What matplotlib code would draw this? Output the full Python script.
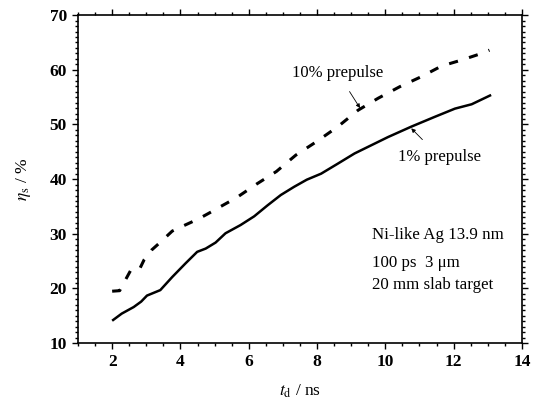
import matplotlib
matplotlib.use("Agg")
import matplotlib.pyplot as plt
from matplotlib.ticker import MultipleLocator

plt.rcParams["font.family"] = "Liberation Serif"
plt.rcParams["mathtext.fontset"] = "stix"

# 1% prepulse (solid)
t_1 = [2.0, 2.28, 2.63, 2.85, 3.02, 3.41, 3.76, 4.15, 4.49, 4.74, 5.03, 5.32,
       5.76, 6.16, 6.55, 6.94, 7.33, 7.7, 8.12, 8.6, 9.1, 10.08, 10.76, 11.45,
       12.04, 12.53, 13.1]
eta_1 = [14.1, 15.4, 16.6, 17.6, 18.7, 19.7, 22.1, 24.6, 26.7, 27.3, 28.4, 30.1,
         31.6, 33.2, 35.2, 37.1, 38.6, 39.9, 41.0, 42.8, 44.7, 47.7, 49.6, 51.4,
         52.9, 53.7, 55.4]

# 10% prepulse (dashed)
t_10 = [2.0, 2.22, 2.41, 2.55, 2.8, 2.94, 3.15, 3.4, 3.76, 4.03, 4.31, 4.58,
        4.9, 5.18, 5.64, 6.23, 6.81, 7.38, 7.97, 8.61, 9.2, 9.79, 10.42, 11.04,
        11.65, 12.24, 12.82, 13.05]
eta_10 = [19.5, 19.6, 21.8, 23.4, 23.5, 25.3, 27.0, 28.4, 30.5, 31.3, 32.1, 32.9,
          34.0, 35.0, 36.6, 39.1, 41.4, 44.4, 46.8, 49.6, 52.6, 54.8, 56.9, 58.7,
          60.7, 61.8, 63.0, 63.6]

fig = plt.figure(figsize=(5.38, 3.99), dpi=100)
ax = fig.add_axes([0.145, 0.14, 0.825, 0.822])

ax.plot(t_1, eta_1, color="black", lw=1.8, solid_capstyle="butt")
ax.plot(t_10, eta_10, color="black", lw=2.2, linestyle=(0, (3.0, 3.8)))

ax.set_xlim(1, 14)
ax.set_ylim(10, 70)
ax.xaxis.set_major_locator(MultipleLocator(2))
ax.xaxis.set_minor_locator(MultipleLocator(0.5))
ax.yaxis.set_major_locator(MultipleLocator(10))
ax.yaxis.set_minor_locator(MultipleLocator(1))
ax.tick_params(which="both", direction="out", top=True, right=True,
               labelsize=12.5, width=1.0)
ax.tick_params(which="major", length=4.5)
ax.tick_params(which="minor", length=2.5)
for lab in ax.get_xticklabels() + ax.get_yticklabels():
    lab.set_fontweight("bold")
for s in ax.spines.values():
    s.set_linewidth(1.2)

ax.set_xlabel(r"$t_{\rm d}$ / ns", fontsize=12.5, labelpad=9)
ax.set_ylabel(r"$\eta_{\rm s}$ / %", fontsize=12.5, labelpad=12)

ax.annotate("10% prepulse", xy=(9.26, 53.0), xytext=(8.6, 59.5),
            ha="center", va="center", fontsize=12,
            arrowprops=dict(arrowstyle="-|>", color="black", lw=0.6,
                            mutation_scale=6, shrinkA=7, shrinkB=0))
ax.annotate("1% prepulse", xy=(10.76, 49.3), xytext=(11.6, 44.0),
            ha="center", va="center", fontsize=12,
            arrowprops=dict(arrowstyle="-|>", color="black", lw=0.6,
                            mutation_scale=6, shrinkA=7, shrinkB=0))

ax.text(9.62, 29.8, "Ni-like Ag 13.9 nm", fontsize=12.2, va="center")
ax.text(9.62, 24.6, "100 ps  3 \u03bcm", fontsize=12.2, va="center")
ax.text(9.62, 20.6, "20 mm slab target", fontsize=12.2, va="center")

plt.savefig("out.png", dpi=100)
